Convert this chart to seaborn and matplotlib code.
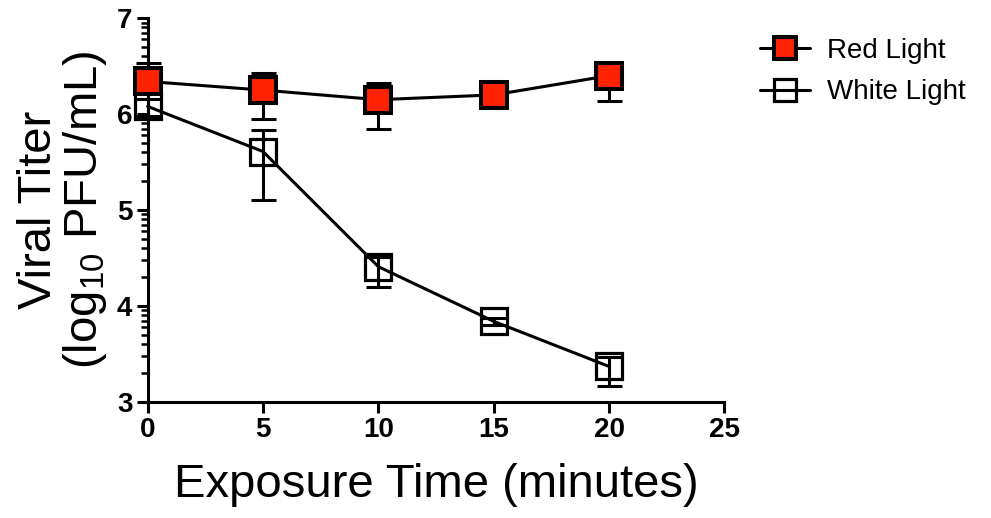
import numpy as np
import pandas as pd
import matplotlib
matplotlib.use('Agg')
import matplotlib.pyplot as plt
from matplotlib.lines import Line2D
import seaborn as sns

# data
time = [0, 5, 10, 15, 20]
red_mean = [6.34, 6.25, 6.15, 6.20, 6.40]
red_err_low = [0.10, 0.30, 0.31, 0.04, 0.26]
red_err_high = [0.19, 0.18, 0.17, 0.04, 0.10]
white_mean = [6.08, 5.61, 4.41, 3.84, 3.37]
white_err_low = [0.10, 0.51, 0.21, 0.04, 0.20]
white_err_high = [0.08, 0.22, 0.10, 0.04, 0.10]
series_names = ['Red Light', 'White Light']
x_ticks = [0, 5, 10, 15, 20, 25]
y_ticks = [3, 4, 5, 6, 7]

sns.set_theme(style='ticks')
plt.rcParams['font.family'] = ['Liberation Sans', 'DejaVu Sans']
plt.rcParams['mathtext.default'] = 'regular'
plt.rcParams['text.color'] = 'black'

df = pd.DataFrame({
    'time': time * 2,
    'titer': red_mean + white_mean,
    'light': [series_names[0]] * len(time) + [series_names[1]] * len(time),
})

fig = plt.figure(figsize=(9.91, 5.18), dpi=100)
ax = fig.add_axes([0.149, 0.224, 0.582, 0.741])

red_color = '#FF2200'
lw = 2.2
ms = 19
mew = 2.3

# error bars first so markers sit on top
ax.errorbar(time, red_mean, yerr=[red_err_low, red_err_high], fmt='none',
            ecolor='black', elinewidth=lw, capsize=9, capthick=lw, zorder=2, clip_on=False)
ax.errorbar(time, white_mean, yerr=[white_err_low, white_err_high], fmt='none',
            ecolor='black', elinewidth=lw, capsize=9, capthick=lw, zorder=2, clip_on=False)

sns.lineplot(data=df[df['light'] == series_names[1]], x='time', y='titer', ax=ax,
             color='black', marker='s', markersize=ms, markerfacecolor='none',
             markeredgecolor='black', markeredgewidth=mew, linewidth=lw,
             legend=False, zorder=3, clip_on=False)
sns.lineplot(data=df[df['light'] == series_names[0]], x='time', y='titer', ax=ax,
             color='black', marker='s', markersize=ms, markerfacecolor=red_color,
             markeredgecolor='black', markeredgewidth=mew + 0.6, linewidth=lw,
             legend=False, zorder=4, clip_on=False)

ax.set_xlim(0, 25)
ax.set_ylim(3, 7)
ax.set_xticks(x_ticks)
ax.set_yticks(y_ticks)
# log-style minor ticks inside each unit, like the original
minor = [n + np.log10(k) for n in range(3, 7) for k in range(2, 10)]
ax.set_yticks(minor, minor=True)

for side in ['top', 'right']:
    ax.spines[side].set_visible(False)
for side in ['left', 'bottom']:
    ax.spines[side].set_linewidth(lw)
    ax.spines[side].set_color('black')

ax.tick_params(axis='both', which='major', direction='out', length=8, width=lw,
               labelsize=20, colors='black', pad=3)
ax.tick_params(axis='y', which='minor', direction='out', length=5, width=1.8, colors='black')
for lab in ax.get_xticklabels() + ax.get_yticklabels():
    lab.set_fontweight('bold')

ax.set_xlabel('Exposure Time (minutes)', fontsize=34, labelpad=14, color='black')
ax.set_ylabel('Viral Titer\n(log$_{10}$ PFU/mL)', fontsize=34, labelpad=6,
              color='black', linespacing=1.0)

handles = [
    Line2D([], [], color='black', linewidth=lw, marker='s', markersize=16,
           markerfacecolor=red_color, markeredgecolor='black', markeredgewidth=mew + 0.6),
    Line2D([], [], color='black', linewidth=lw, marker='s', markersize=16,
           markerfacecolor='none', markeredgecolor='black', markeredgewidth=mew),
]
leg = fig.legend(handles, series_names, loc='upper left', bbox_to_anchor=(0.742, 0.975),
                 frameon=False, fontsize=20, handlelength=1.8, handletextpad=0.6,
                 labelspacing=0.55)
for t in leg.get_texts():
    t.set_color('black')

fig.savefig('out.png', dpi=100)
